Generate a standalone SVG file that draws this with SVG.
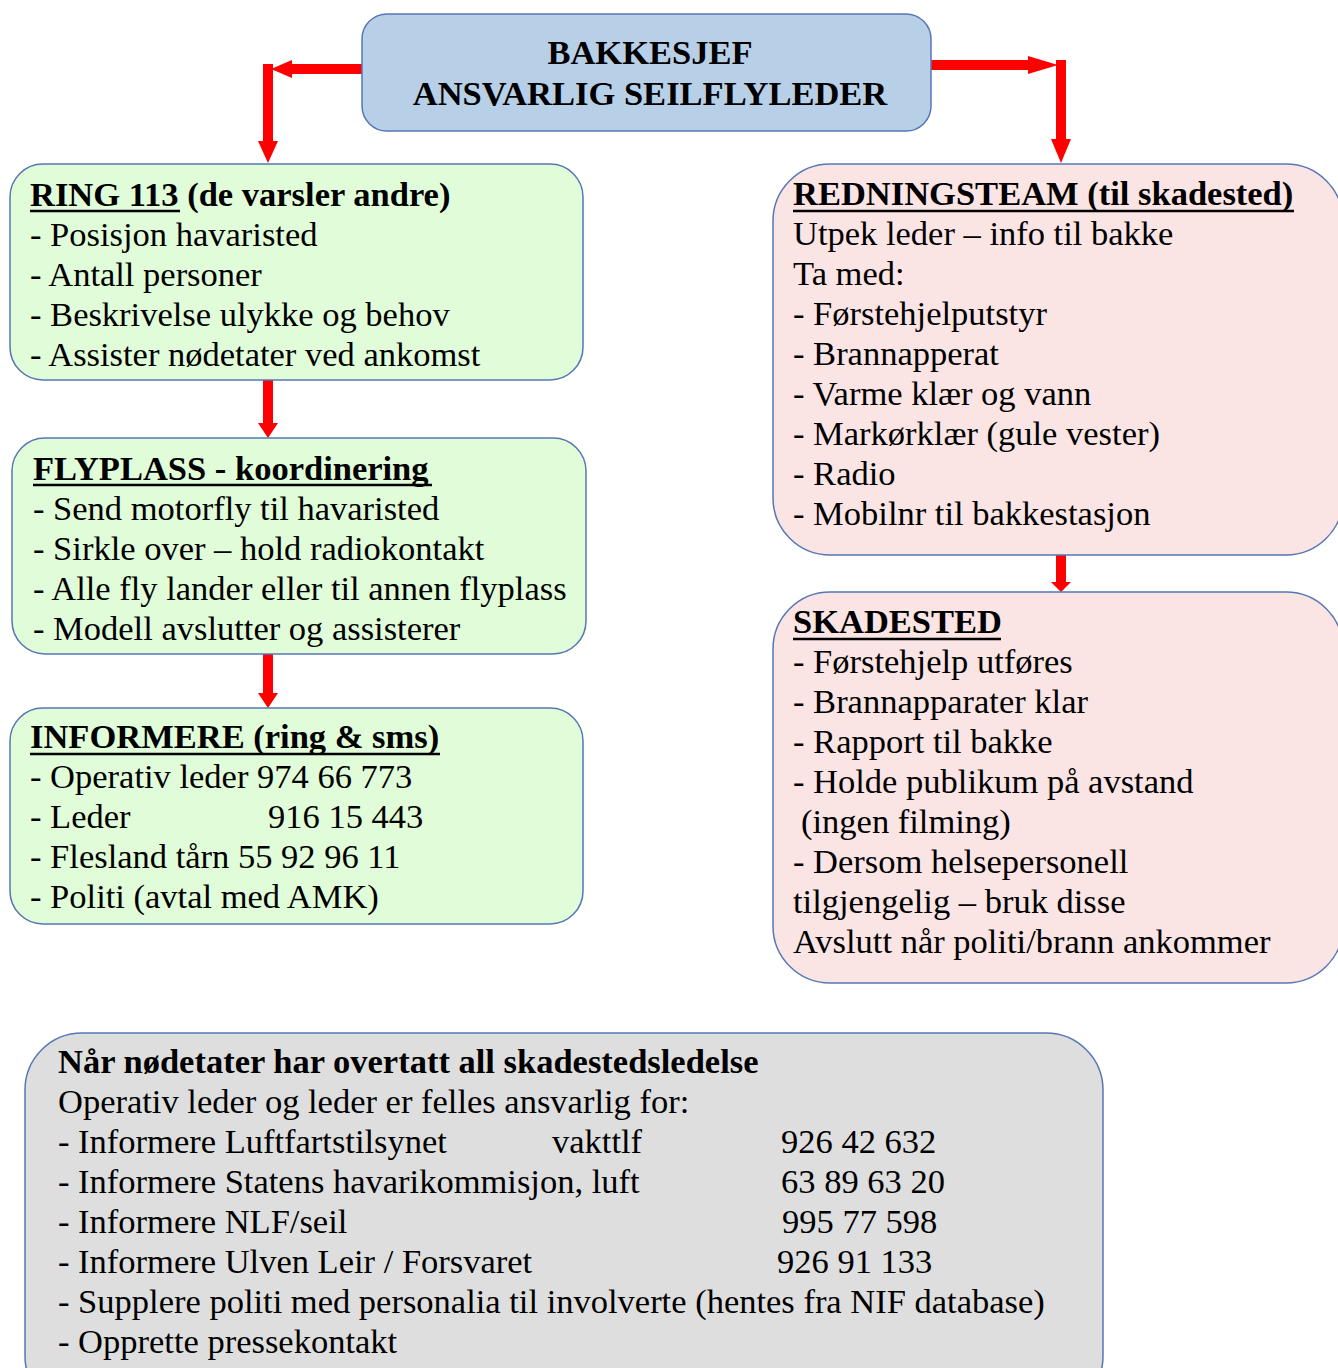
<svg xmlns="http://www.w3.org/2000/svg" width="1338" height="1368" viewBox="0 0 1338 1368">
<style>
.box{stroke:#5677b5;stroke-width:1.5}
.blue{fill:#b8cfe8}
.green{fill:#e1fcd9}
.pink{fill:#fbe4e4}
.gray{fill:#dedede}
text{font-family:"Liberation Serif","Times New Roman",serif;font-size:34.5px;fill:#000}
.b{font-weight:bold}
.ul{stroke:#000;stroke-width:2.5}
.arrow{fill:#ff0000}
</style>
<rect x="0" y="0" width="1338" height="1368" fill="#ffffff"/>
<g id="connectors">
<polygon class="arrow" points="362,64 292,64 292,60 271,69 292,78 292,74 362,74"/>
<polygon class="arrow" points="263,64 273,64 273,141 278,141 268,163 258,141 263,141"/>
<polygon class="arrow" points="931,60 1028,60 1028,56 1058,65 1028,74 1028,70 931,70"/>
<polygon class="arrow" points="1056,60 1066,60 1066,139 1071,139 1061,163 1051,139 1056,139"/>
<polygon class="arrow" points="263,380 273,380 273,423 278,423 268,438 258,423 263,423"/>
<polygon class="arrow" points="263,654 273,654 273,693 278,693 268,708 258,693 263,693"/>
<polygon class="arrow" points="1056,555 1066,555 1066,582 1071,582 1061,592 1051,582 1056,582"/>
</g>
<g id="bakkesjef">
<rect class="box blue" x="362" y="14" width="569" height="117" rx="25"/>
<text class="b" x="650" y="64" text-anchor="middle">BAKKESJEF</text>
<text class="b" x="650" y="105" text-anchor="middle">ANSVARLIG SEILFLYLEDER</text>
</g>
<g id="ring113">
<rect class="box green" x="10" y="164" width="573" height="216" rx="33"/>
<text class="b" x="30" y="206">RING 113 (de varsler andre)</text>
<line class="ul" x1="30" y1="211" x2="180" y2="211"/>
<text x="30" y="246">- Posisjon havaristed</text>
<text x="30" y="286">- Antall personer</text>
<text x="30" y="326">- Beskrivelse ulykke og behov</text>
<text x="30" y="366">- Assister nødetater ved ankomst</text>
</g>
<g id="flyplass">
<rect class="box green" x="12" y="438" width="574" height="216" rx="33"/>
<text class="b" x="33" y="480">FLYPLASS - koordinering</text>
<line class="ul" x1="33" y1="485" x2="432" y2="485"/>
<text x="33" y="520">- Send motorfly til havaristed</text>
<text x="33" y="560">- Sirkle over – hold radiokontakt</text>
<text x="33" y="600">- Alle fly lander eller til annen flyplass</text>
<text x="33" y="640">- Modell avslutter og assisterer</text>
</g>
<g id="informere">
<rect class="box green" x="10" y="708" width="573" height="216" rx="33"/>
<text class="b" x="30" y="748">INFORMERE (ring &amp; sms)</text>
<line class="ul" x1="30" y1="754" x2="440" y2="754"/>
<text x="30" y="788">- Operativ leder 974 66 773</text>
<text x="30" y="828">- Leder<tspan x="268">916 15 443</tspan></text>
<text x="30" y="868">- Flesland tårn 55 92 96 11</text>
<text x="30" y="908">- Politi (avtal med AMK)</text>
</g>
<g id="redningsteam">
<rect class="box pink" x="773" y="164" width="570" height="391" rx="57"/>
<text class="b" x="793" y="205">REDNINGSTEAM (til skadested)</text>
<line class="ul" x1="793" y1="211" x2="1294" y2="211"/>
<text x="793" y="245">Utpek leder – info til bakke</text>
<text x="793" y="285">Ta med:</text>
<text x="793" y="325">- Førstehjelputstyr</text>
<text x="793" y="365">- Brannapperat</text>
<text x="793" y="405">- Varme klær og vann</text>
<text x="793" y="445">- Markørklær (gule vester)</text>
<text x="793" y="485">- Radio</text>
<text x="793" y="525">- Mobilnr til bakkestasjon</text>
</g>
<g id="skadested">
<rect class="box pink" x="773" y="592" width="570" height="391" rx="57"/>
<text class="b" x="793" y="633">SKADESTED</text>
<line class="ul" x1="793" y1="639" x2="1001" y2="639"/>
<text x="793" y="673">- Førstehjelp utføres</text>
<text x="793" y="713">- Brannapparater klar</text>
<text x="793" y="753">- Rapport til bakke</text>
<text x="793" y="793">- Holde publikum på avstand</text>
<text x="801" y="833">(ingen filming)</text>
<text x="793" y="873">- Dersom helsepersonell</text>
<text x="793" y="913">tilgjengelig – bruk disse</text>
<text x="793" y="953">Avslutt når politi/brann ankommer</text>
</g>
<g id="nodetater">
<rect class="box gray" x="25" y="1033" width="1078" height="380" rx="57"/>
<text class="b" x="58" y="1073">Når nødetater har overtatt all skadestedsledelse</text>
<text x="58" y="1113">Operativ leder og leder er felles ansvarlig for:</text>
<text x="58" y="1153">- Informere Luftfartstilsynet<tspan x="552">vakttlf</tspan><tspan x="781">926 42 632</tspan></text>
<text x="58" y="1193">- Informere Statens havarikommisjon, luft<tspan x="781">63 89 63 20</tspan></text>
<text x="58" y="1233">- Informere NLF/seil<tspan x="782">995 77 598</tspan></text>
<text x="58" y="1273">- Informere Ulven Leir / Forsvaret<tspan x="777">926 91 133</tspan></text>
<text x="58" y="1313">- Supplere politi med personalia til involverte (hentes fra NIF database)</text>
<text x="58" y="1353">- Opprette pressekontakt</text>
</g>
</svg>
